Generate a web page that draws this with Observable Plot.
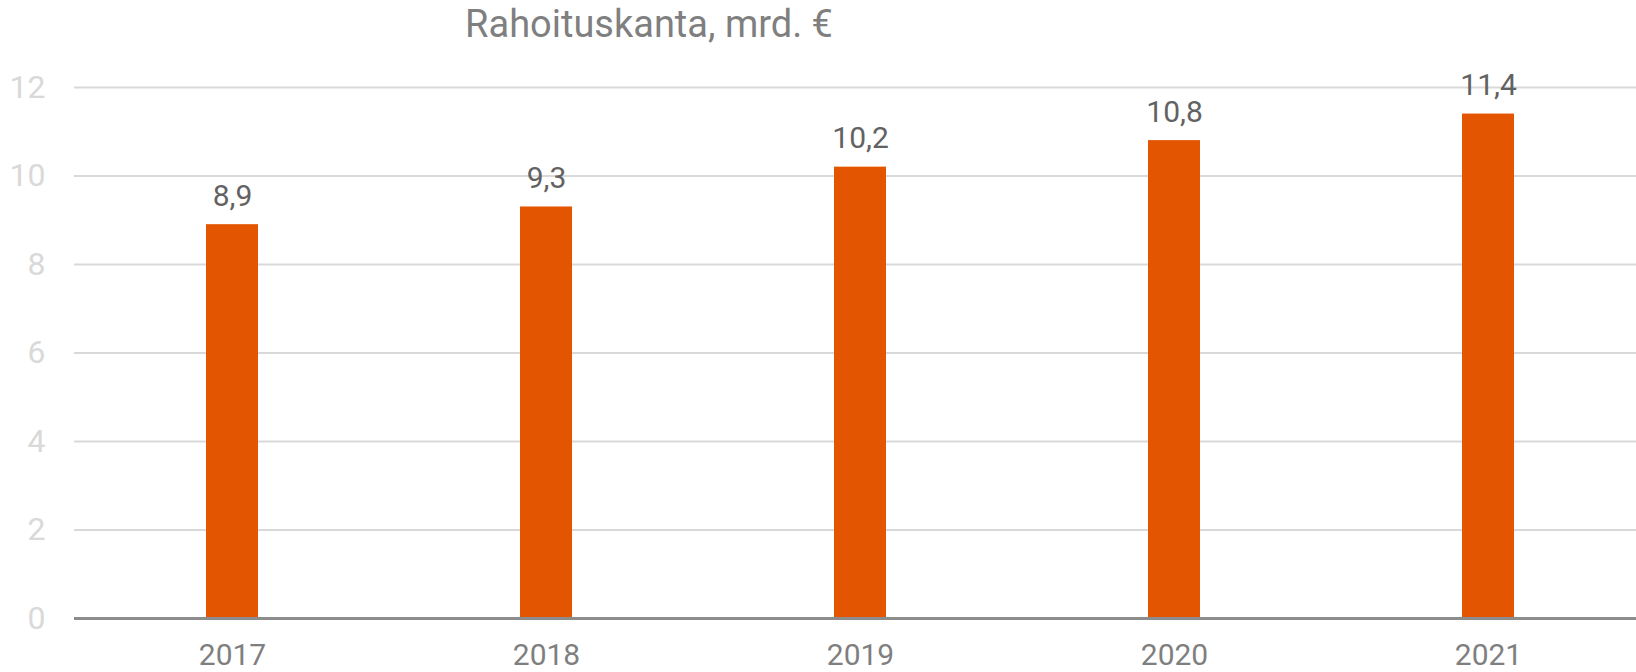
<!DOCTYPE html>
<html>
<head>
<meta charset="utf-8">
<script src="https://cdn.jsdelivr.net/npm/d3@7"></script>
<script src="https://cdn.jsdelivr.net/npm/@observablehq/plot@0.6"></script>
<style>
  html, body { margin: 0; padding: 0; background: #fff; }
  body { width: 1636px; height: 672px; overflow: hidden; font-family: Roboto, "Open Sans", sans-serif; }
  #wrap { position: relative; width: 1636px; }
  #title { position: relative; height: 60px; }
  #title span { position: absolute; left: 649px; top: 5px; transform: translateX(-50%); font-size: 38px; line-height: 1; color: #7f7f7f; white-space: nowrap; font-weight: 400; }
  #chart svg { display: block; }
</style>
</head>
<body>
<div id="wrap">
  <div id="title"><span></span></div>
  <div id="chart"></div>
</div>
<script>
const titleText = "Rahoituskanta, mrd. €";
const years = ["2017", "2018", "2019", "2020", "2021"];
const values = [8.9, 9.3, 10.2, 10.8, 11.4];
const valueLabels = ["8,9", "9,3", "10,2", "10,8", "11,4"];
const yTicks = [0, 2, 4, 6, 8, 10, 12];

document.querySelector("#title span").textContent = titleText;

const data = years.map((y, i) => ({year: y, value: values[i], label: valueLabels[i]}));

const chart = Plot.plot({
  width: 1636,
  height: 612,
  marginTop: 27,
  marginBottom: 54,
  marginLeft: 74,
  marginRight: 0,
  style: {fontFamily: "Roboto, 'Open Sans', sans-serif", background: "#fff"},
  x: {domain: years, paddingInner: 0.8347, paddingOuter: 0.4007, align: 0.52, label: null},
  y: {domain: [0, 12], label: null},
  marks: [
    Plot.ruleY(yTicks.filter(d => d > 0), {stroke: "#d9d9d9", strokeWidth: 2}),
    Plot.barY(data, {x: "year", y: "value", fill: "#e35500"}),
    Plot.ruleY([0], {stroke: "#8c8c8c", strokeWidth: 3}),
    Plot.text(data, {x: "year", y: "value", text: "label", lineAnchor: "bottom", dy: -19, fontSize: 30, fill: "#626262"}),
    Plot.axisY({ticks: yTicks, tickSize: 0, tickPadding: 29, fontSize: 32, color: "#d9d9d9", tickFormat: d => String(d), label: null}),
    Plot.axisX({tickSize: 0, tickPadding: 25, fontSize: 30, color: "#7f7f7f", label: null})
  ]
});
document.getElementById("chart").appendChild(chart);
</script>
</body>
</html>
